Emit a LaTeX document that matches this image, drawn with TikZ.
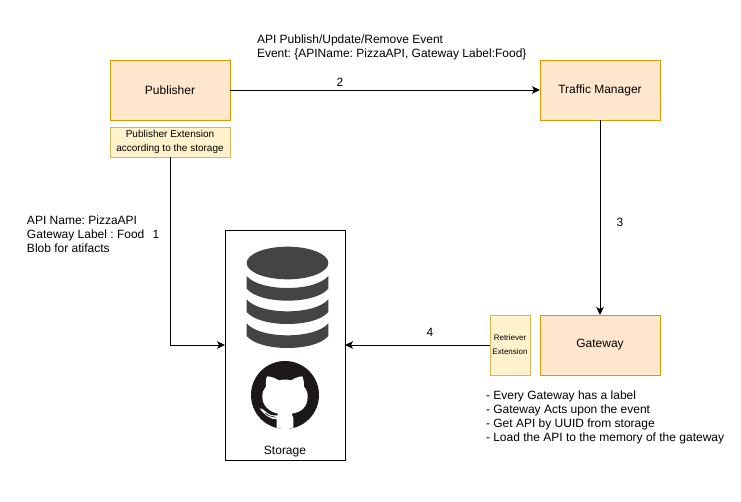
\documentclass[tikz,border=0pt]{standalone}
\usepackage{fontspec}
\setmainfont{Liberation Sans}
\frenchspacing
\usetikzlibrary{arrows.meta}
\definecolor{boxfill}{HTML}{FFE6CC}
\definecolor{boxline}{HTML}{D79B00}
\definecolor{extfill}{HTML}{FFF2CC}
\definecolor{extline}{HTML}{D6B656}
\definecolor{dbgrey}{HTML}{444444}
\definecolor{ghblack}{HTML}{1B1817}
\tikzset{
  mainbox/.style={draw=boxline,fill=boxfill,line width=1pt,minimum width=120pt,minimum height=60pt,inner sep=0pt,outer sep=0pt,font=\fontsize{12}{14}\selectfont},
  extbox/.style={draw=extline,fill=extfill,line width=1pt,inner sep=0pt,outer sep=0pt,align=center},
  storebox/.style={draw=black,fill=white,line width=1pt,minimum width=120pt,minimum height=230pt,inner sep=0pt,outer sep=0pt},
  conn/.style={draw=black,line width=1pt,-{Stealth[length=8pt,width=7.5pt,inset=2pt]}},
  note/.style={inner sep=0pt,outer sep=0pt,anchor=west,align=left,font=\fontsize{12}{14}\selectfont},
  num/.style={inner sep=0pt,outer sep=0pt,font=\fontsize{12}{14}\selectfont}
}
\begin{document}
\begin{tikzpicture}[x=1pt,y=-1pt]
\useasboundingbox (0,0) rectangle (741,501);
\fill[white] (0,0) rectangle (741,501);
\node[mainbox] (publisher) at (170,90) {\raisebox{-1pt}{Publisher}};
\node[extbox,minimum width=120pt,minimum height=30pt,font=\fontsize{10}{14}\selectfont] (pubext) at (170,142) {Publisher Extension\\according to the storage};
\node[mainbox] (tm) at (600,90) {\raisebox{-1pt}{Traffic Manager}};
\node[mainbox] (gateway) at (600,345) {\raisebox{-1pt}{Gateway}};
\node[extbox,minimum width=40pt,minimum height=60pt,font=\fontsize{8}{14}\selectfont] (retr) at (510,345) {Retriever\\Extension};
\node[storebox] (storage) at (285,345) {};
\node[num] (storagelabel) at (285,452) {Storage};
% database icon
\begin{scope}[shift={(240,240)},x=0.3333pt,y=-0.3333pt]
  \fill[dbgrey] (142.5,69) ellipse [x radius=122.5,y radius=49];
  \foreach \t in {108,178,250}{
    \fill[dbgrey] (20,\t) .. controls (60,\t+48) and (225,\t+48) .. (265,\t) -- (265,\t+38) .. controls (225,\t+86) and (60,\t+86) .. (20,\t+38) -- cycle;
  }
\end{scope}
% github icon
\begin{scope}[shift={(245,355)},x=0.3333pt,y=-0.3333pt]
  \fill[ghblack] (120,120) circle [radius=102];
  \begin{scope}
    \clip (120,120) circle [radius=102];
    \fill[white] (66,64) .. controls (78,64) and (92,70) .. (102,76) .. controls (112,73) and (128,73) .. (138,76) .. controls (148,70) and (162,64) .. (172,64) .. controls (176,75) and (178,85) .. (177,95) .. controls (185,105) and (188,112) .. (188,125) .. controls (188,155) and (170,172) .. (140,176) .. controls (146,184) and (145,192) .. (145,200) -- (145,230) -- (95,230) -- (95,195) .. controls (95,188) and (96,182) .. (99,176) .. controls (72,170) and (52,152) .. (52,125) .. controls (52,112) and (55,105) .. (63,95) .. controls (62,85) and (62,75) .. (66,64) -- cycle;
    \fill[white] (44,160) .. controls (56,160) and (64,176) .. (78,180) .. controls (84,182) and (90,181) .. (96,181) -- (95,193) .. controls (78,194) and (58,180) .. (44,160) -- cycle;
    \draw[ghblack,line width=0.6pt] (60,174) -- (72,182) -- (92,187);
  \end{scope}
\end{scope}
% connectors
\draw[conn] (publisher.east) -- (tm.west);
\draw[conn] (pubext.south) |- (storage.west);
\draw[conn] (tm.south) -- (gateway.north);
\draw[conn] (retr.west) -- (storage.east);
% labels
\node[note] (evt) at (257,47) {API Publish/Update/Remove Event\\Event: \{APIName: PizzaAPI, Gateway Label:Food\}};
\node[num] (n2) at (340,82) {2};
\node[note] (meta) at (27,234) {API Name: PizzaAPI\\Gateway Label : Food\\Blob for atifacts};
\node[num] (n1) at (156,234) {1};
\node[num] (n3) at (620,222) {3};
\node[num] (n4) at (430,332) {4};
\node[note] (gwnotes) at (486,417) {- Every Gateway has a label\\- Gateway Acts upon the event\\- Get API by UUID from storage\\- Load the API to the memory of the gateway};
\end{tikzpicture}
\end{document}
